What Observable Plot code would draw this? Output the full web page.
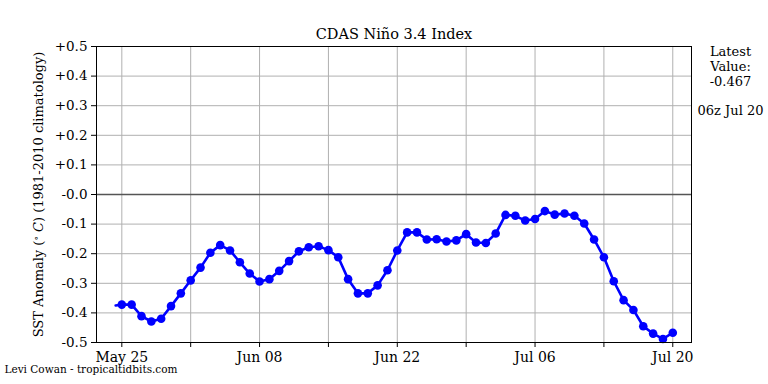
<!DOCTYPE html>
<html>
<head>
<meta charset="utf-8">
<script src="https://cdn.jsdelivr.net/npm/d3@7"></script>
<script src="https://cdn.jsdelivr.net/npm/@observablehq/plot@0.6"></script>
<style>
  html, body { margin: 0; padding: 0; background: white; }
  #chart svg { display: block; font-family: "DejaVu Serif", serif; }
  #chart svg text { font-family: "DejaVu Serif", serif; }
</style>
</head>
<body>
<div id="chart"></div>
<script>
// ---- data ----
const dates = [
  "2020-05-25","2020-05-26","2020-05-27","2020-05-28","2020-05-29","2020-05-30","2020-05-31",
  "2020-06-01","2020-06-02","2020-06-03","2020-06-04","2020-06-05","2020-06-06","2020-06-07",
  "2020-06-08","2020-06-09","2020-06-10","2020-06-11","2020-06-12","2020-06-13","2020-06-14",
  "2020-06-15","2020-06-16","2020-06-17","2020-06-18","2020-06-19","2020-06-20","2020-06-21",
  "2020-06-22","2020-06-23","2020-06-24","2020-06-25","2020-06-26","2020-06-27","2020-06-28",
  "2020-06-29","2020-06-30","2020-07-01","2020-07-02","2020-07-03","2020-07-04","2020-07-05",
  "2020-07-06","2020-07-07","2020-07-08","2020-07-09","2020-07-10","2020-07-11","2020-07-12",
  "2020-07-13","2020-07-14","2020-07-15","2020-07-16","2020-07-17","2020-07-18","2020-07-19",
  "2020-07-20"
];
const values = [
  -0.372,-0.372,-0.411,-0.429,-0.420,-0.377,-0.334,
  -0.290,-0.247,-0.197,-0.171,-0.189,-0.229,-0.267,
  -0.294,-0.286,-0.258,-0.225,-0.192,-0.178,-0.175,
  -0.188,-0.212,-0.286,-0.334,-0.334,-0.307,-0.256,
  -0.189,-0.128,-0.128,-0.152,-0.151,-0.159,-0.155,
  -0.134,-0.162,-0.164,-0.132,-0.069,-0.072,-0.088,
  -0.083,-0.056,-0.068,-0.064,-0.072,-0.098,-0.152,
  -0.212,-0.293,-0.357,-0.390,-0.445,-0.470,-0.488,
  -0.467
];
// line begins a little before the first marked day (no marker there)
const lineStartDate = "2020-05-24T09:00Z";
const lineStartValue = -0.375;

const weekTicks = ["2020-05-25","2020-06-01","2020-06-08","2020-06-15","2020-06-22",
                   "2020-06-29","2020-07-06","2020-07-13","2020-07-20"];
const weekLabels = ["May 25","","Jun 08","","Jun 22","","Jul 06","","Jul 20"];
const yTicks = [-0.5,-0.4,-0.3,-0.2,-0.1,0,0.1,0.2,0.3,0.4,0.5];
const yTickLabels = ["-0.5","-0.4","-0.3","-0.2","-0.1","-0.0","+0.1","+0.2","+0.3","+0.4","+0.5"];

const titleText = "CDAS Niño 3.4 Index";
const yLabel = "SST Anomaly (° C) (1981-2010 climatology)";
const latestTime = "06z Jul 20";
const credit = "Levi Cowan - tropicaltidbits.com";

// ---- build ----
const FONT = "DejaVu Serif";
const parse = s => new Date(s.length === 10 ? s + "T00:00Z" : s);
const points = dates.map((d, i) => ({date: parse(d), value: values[i]}));
const lineData = [{date: parse(lineStartDate), value: lineStartValue}, ...points];
const tickDates = weekTicks.map(parse);
const labelFor = new Map(tickDates.map((d, i) => [+d, weekLabels[i]]));
const yLabelFor = new Map(yTicks.map((v, i) => [v, yTickLabels[i]]));
const latest = values[values.length - 1];
const sideNote = `Latest\nValue:\n${latest.toFixed(3)}\n\n${latestTime}`;

const plot = Plot.plot({
  width: 768,
  height: 384,
  marginLeft: 96,
  marginRight: 77,
  marginTop: 46,
  marginBottom: 42,
  style: {fontFamily: FONT, fontSize: "13px", background: "white", color: "black"},
  x: {type: "utc", domain: [parse("2020-05-22T10:15Z"), parse("2020-07-21T21:40Z")]},
  y: {domain: [-0.5, 0.5]},
  marks: [
    Plot.gridX(tickDates, {stroke: "#b0b0b0", strokeOpacity: 1, strokeWidth: 1}),
    Plot.gridY(yTicks, {stroke: "#b0b0b0", strokeOpacity: 1, strokeWidth: 1}),
    Plot.ruleY([0], {stroke: "#555", strokeWidth: 1.5}),
    Plot.line(lineData, {x: "date", y: "value", stroke: "#0000ff", strokeWidth: 2.6}),
    Plot.dot(points, {x: "date", y: "value", fill: "#0000ff", stroke: "none", r: 4.3}),
    Plot.frame({stroke: "black", strokeWidth: 1}),
    Plot.axisX(tickDates, {
      tickFormat: d => labelFor.get(+d), tickSize: 5, tickPadding: 5,
      fontSize: 14, fontFamily: FONT, label: null, stroke: "black"
    }),
    Plot.axisY(yTicks, {
      tickFormat: v => yLabelFor.get(v), tickSize: 5, tickPadding: 4,
      fontSize: 13.5, fontFamily: FONT, label: null, stroke: "black"
    }),
    Plot.text([yLabel], {frameAnchor: "left", rotate: -90, dx: -58, textAnchor: "middle", fontSize: 13, fontFamily: FONT}),
    Plot.text([titleText], {frameAnchor: "top", lineAnchor: "bottom", dy: -7.7, fontSize: 14.5, fontFamily: FONT}),
    Plot.text([sideNote], {frameAnchor: "top-right", dx: 39, dy: -1, lineAnchor: "top", textAnchor: "middle", fontSize: 13, lineHeight: 1.14, fontFamily: FONT}),
    Plot.text([credit], {frameAnchor: "bottom-left", dx: -92, dy: 30, lineAnchor: "bottom", textAnchor: "start", fontSize: 10.5, fontFamily: FONT})
  ]
});

// italic C and small degree sign in the y label
d3.select(plot).selectAll("text").filter(function() { return this.textContent === yLabel; })
  .each(function() {
    const t = d3.select(this);
    t.text(null);
    t.append("tspan").text("SST Anomaly (");
    t.append("tspan").attr("font-size", "9px").attr("dy", "-0.45em").text("∘");
    t.append("tspan").attr("dy", "0.35em").text(" ");
    t.append("tspan").attr("font-style", "italic").text("C");
    t.append("tspan").text(") (1981-2010 climatology)");
  });

document.getElementById("chart").appendChild(plot);
</script>
</body>
</html>
